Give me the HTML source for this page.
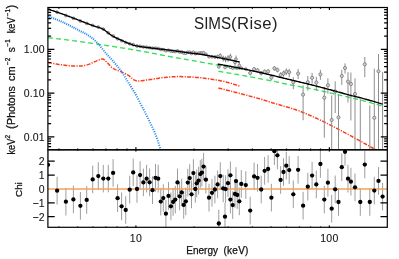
<!DOCTYPE html>
<html><head><meta charset="utf-8"><title>SIMS(Rise)</title>
<style>html,body{margin:0;padding:0;background:#fff;overflow:hidden}body{width:399px;height:259px;position:relative;font-family:"Liberation Sans",sans-serif}</style></head>
<body>
<svg width="399" height="259" viewBox="0 0 399 259" style="display:block;position:absolute;left:0;top:0;will-change:transform">
<rect width="399" height="259" fill="#fff"/>
<defs><clipPath id="ct"><rect x="47.9" y="7.5" width="339.40000000000003" height="142.3"/></clipPath><clipPath id="cb"><rect x="47.9" y="149.8" width="339.40000000000003" height="77.5"/></clipPath></defs>
<g clip-path="url(#ct)" fill="none">
<path d="M48.0,37.7 L49.0,37.8 L49.9,37.9 L50.9,38.0 L51.8,38.1 L52.8,38.2 L53.8,38.3 L54.7,38.4 L55.7,38.5 L56.7,38.7 L57.6,38.8 L58.6,38.9 L59.5,39.0 L60.5,39.1 L61.5,39.2 L62.4,39.3 L63.4,39.5 L64.4,39.6 L65.3,39.7 L66.3,39.8 L67.2,39.9 L68.2,40.1 L69.2,40.2 L70.1,40.3 L71.1,40.4 L72.1,40.5 L73.0,40.7 L74.0,40.8 L74.9,40.9 L75.9,41.0 L76.9,41.2 L77.8,41.3 L78.8,41.4 L79.8,41.6 L80.7,41.7 L81.7,41.8 L82.6,42.0 L83.6,42.1 L84.6,42.2 L85.5,42.4 L86.5,42.5 L87.5,42.6 L88.4,42.8 L89.4,42.9 L90.3,43.0 L91.3,43.2 L92.3,43.3 L93.2,43.5 L94.2,43.6 L95.2,43.7 L96.1,43.9 L97.1,44.0 L98.0,44.2 L99.0,44.3 L100.0,44.5 L100.9,44.6 L101.9,44.8 L102.9,44.9 L103.8,45.1 L104.8,45.2 L105.7,45.3 L106.7,45.5 L107.7,45.6 L108.6,45.8 L109.6,45.9 L110.6,46.1 L111.5,46.2 L112.5,46.4 L113.4,46.5 L114.4,46.7 L115.4,46.9 L116.3,47.0 L117.3,47.2 L118.2,47.3 L119.2,47.5 L120.2,47.6 L121.1,47.8 L122.1,47.9 L123.1,48.1 L124.0,48.2 L125.0,48.4 L125.9,48.6 L126.9,48.7 L127.9,48.9 L128.8,49.0 L129.8,49.2 L130.8,49.4 L131.7,49.5 L132.7,49.7 L133.6,49.8 L134.6,50.0 L135.6,50.2 L136.5,50.3 L137.5,50.5 L138.5,50.6 L139.4,50.8 L140.4,51.0 L141.3,51.1 L142.3,51.3 L143.3,51.5 L144.2,51.6 L145.2,51.8 L146.2,52.0 L147.1,52.2 L148.1,52.4 L149.0,52.6 L150.0,52.7 L151.0,52.9 L151.9,53.1 L152.9,53.3 L153.9,53.5 L154.8,53.7 L155.8,53.9 L156.7,54.1 L157.7,54.3 L158.7,54.5 L159.6,54.7 L160.6,54.8 L161.6,55.0 L162.5,55.2 L163.5,55.4 L164.4,55.6 L165.4,55.8 L166.4,55.9 L167.3,56.1 L168.3,56.3 L169.3,56.5 L170.2,56.6 L171.2,56.8 L172.1,57.0 L173.1,57.2 L174.1,57.3 L175.0,57.5 L176.0,57.7 L176.9,57.8 L177.9,58.0 L178.9,58.2 L179.8,58.3 L180.8,58.5 L181.8,58.7 L182.7,58.9 L183.7,59.0 L184.6,59.2 L185.6,59.4 L186.6,59.5 L187.5,59.7 L188.5,59.9 L189.5,60.0 L190.4,60.2 L191.4,60.4 L192.3,60.6 L193.3,60.7 L194.3,60.9 L195.2,61.1 L196.2,61.2 L197.2,61.4 L198.1,61.6 L199.1,61.8 L200.0,61.9 L201.0,62.1 L202.0,62.3 L202.9,62.4 L203.9,62.6 L204.9,62.8 L205.8,62.9 L206.8,63.1 L207.7,63.3 L208.7,63.5 L209.7,63.6 L210.6,63.8 L211.6,64.0 L212.6,64.2 L213.5,64.3 L214.5,64.5 L215.4,64.7 L216.4,64.9 L217.4,65.1 L218.3,65.3 L219.3,65.4 L220.3,65.6 L221.2,65.8 L222.2,66.0 L223.1,66.2 L224.1,66.4 L225.1,66.6 L226.0,66.8 L227.0,66.9 L228.0,67.1 L228.9,67.3 L229.9,67.5 L230.8,67.7 L231.8,67.9 L232.8,68.1 L233.7,68.3 L234.7,68.5 L235.7,68.7 L236.6,68.9 L237.6,69.1 L238.5,69.3 L239.5,69.5" stroke="#2ee052" stroke-width="1.3" stroke-dasharray="5,3.1"/>
<path d="M218.4,71.3 L219.2,71.4 L220.1,71.6 L220.9,71.7 L221.7,71.8 L222.5,72.0 L223.4,72.1 L224.2,72.3 L225.0,72.4 L225.8,72.5 L226.7,72.7 L227.5,72.8 L228.3,73.0 L229.1,73.1 L230.0,73.2 L230.8,73.4 L231.6,73.5 L232.4,73.7 L233.3,73.8 L234.1,74.0 L234.9,74.1 L235.7,74.2 L236.6,74.4 L237.4,74.5 L238.2,74.7 L239.0,74.8 L239.9,75.0 L240.7,75.1 L241.5,75.3 L242.3,75.4 L243.2,75.6 L244.0,75.7 L244.8,75.9 L245.6,76.0 L246.5,76.2 L247.3,76.3 L248.1,76.5 L248.9,76.6 L249.8,76.8 L250.6,76.9 L251.4,77.1 L252.2,77.2 L253.1,77.4 L253.9,77.6 L254.7,77.7 L255.5,77.9 L256.4,78.0 L257.2,78.2 L258.0,78.3 L258.8,78.5 L259.7,78.6 L260.5,78.8 L261.3,78.9 L262.1,79.1 L263.0,79.3 L263.8,79.4 L264.6,79.6 L265.4,79.7 L266.3,79.9 L267.1,80.0 L267.9,80.2 L268.7,80.4 L269.6,80.5 L270.4,80.7 L271.2,80.8 L272.0,81.0 L272.9,81.2 L273.7,81.4 L274.5,81.5 L275.3,81.7 L276.2,81.9 L277.0,82.0 L277.8,82.2 L278.6,82.4 L279.5,82.6 L280.3,82.8 L281.1,82.9 L281.9,83.1 L282.8,83.3 L283.6,83.5 L284.4,83.6 L285.2,83.8 L286.1,84.0 L286.9,84.2 L287.7,84.3 L288.5,84.5 L289.4,84.7 L290.2,84.8 L291.0,85.0 L291.8,85.2 L292.7,85.3 L293.5,85.5 L294.3,85.6 L295.1,85.8 L296.0,85.9 L296.8,86.1 L297.6,86.2 L298.4,86.4 L299.3,86.5 L300.1,86.7 L300.9,86.8 L301.7,87.0 L302.6,87.1 L303.4,87.3 L304.2,87.4 L305.0,87.6 L305.9,87.7 L306.7,87.9 L307.5,88.0 L308.3,88.2 L309.2,88.4 L310.0,88.5 L310.8,88.7 L311.6,88.8 L312.5,89.0 L313.3,89.1 L314.1,89.3 L314.9,89.5 L315.8,89.7 L316.6,89.8 L317.4,90.0 L318.2,90.2 L319.1,90.4 L319.9,90.5 L320.7,90.7 L321.5,90.9 L322.4,91.1 L323.2,91.3 L324.0,91.5 L324.8,91.7 L325.7,91.9 L326.5,92.1 L327.3,92.3 L328.1,92.5 L329.0,92.7 L329.8,92.9 L330.6,93.0 L331.4,93.2 L332.3,93.4 L333.1,93.6 L333.9,93.8 L334.7,94.0 L335.6,94.2 L336.4,94.4 L337.2,94.5 L338.0,94.7 L338.9,94.9 L339.7,95.1 L340.5,95.3 L341.3,95.5 L342.2,95.7 L343.0,95.9 L343.8,96.1 L344.6,96.2 L345.5,96.4 L346.3,96.6 L347.1,96.8 L347.9,97.0 L348.8,97.2 L349.6,97.4 L350.4,97.6 L351.2,97.8 L352.1,98.0 L352.9,98.2 L353.7,98.4 L354.5,98.6 L355.4,98.8 L356.2,99.0 L357.0,99.2 L357.8,99.4 L358.7,99.6 L359.5,99.8 L360.3,100.0 L361.1,100.2 L362.0,100.4 L362.8,100.6 L363.6,100.8 L364.4,101.0 L365.3,101.3 L366.1,101.5 L366.9,101.7 L367.7,101.9 L368.6,102.1 L369.4,102.4 L370.2,102.6 L371.0,102.8 L371.9,103.1 L372.7,103.3 L373.5,103.5 L374.3,103.8 L375.2,104.0 L376.0,104.2 L376.8,104.5 L377.6,104.7 L378.5,105.0 L379.3,105.2 L380.1,105.4 L380.9,105.7 L381.8,105.9 L382.6,106.2" stroke="#2ee052" stroke-width="1.3" stroke-dasharray="5,3.1"/>
<path d="M48.0,62.5 L49.0,62.7 L49.9,62.9 L50.9,63.1 L51.8,63.3 L52.8,63.5 L53.8,63.6 L54.7,63.8 L55.7,64.0 L56.7,64.1 L57.6,64.3 L58.6,64.4 L59.5,64.5 L60.5,64.7 L61.5,64.8 L62.4,64.9 L63.4,65.0 L64.4,65.2 L65.3,65.3 L66.3,65.4 L67.2,65.5 L68.2,65.6 L69.2,65.7 L70.1,65.7 L71.1,65.8 L72.1,65.9 L73.0,65.9 L74.0,66.0 L74.9,66.0 L75.9,66.0 L76.9,66.1 L77.8,66.1 L78.8,66.1 L79.8,66.1 L80.7,66.0 L81.7,65.9 L82.6,65.8 L83.6,65.6 L84.6,65.4 L85.5,65.1 L86.5,64.9 L87.5,64.7 L88.4,64.4 L89.4,64.1 L90.3,63.7 L91.3,63.2 L92.3,62.8 L93.2,62.3 L94.2,61.9 L95.2,61.5 L96.1,61.1 L97.1,60.6 L98.0,60.2 L99.0,59.9 L100.0,59.6 L100.9,59.3 L101.9,59.1 L102.9,59.0 L103.8,59.4 L104.8,60.2 L105.7,61.2 L106.7,62.1 L107.7,63.0 L108.6,64.1 L109.6,65.2 L110.6,66.3 L111.5,67.3 L112.5,68.1 L113.4,68.7 L114.4,69.1 L115.4,69.6 L116.3,69.9 L117.3,70.3 L118.2,70.6 L119.2,71.0 L120.2,71.3 L121.1,71.7 L122.1,72.1 L123.1,72.6 L124.0,73.0 L125.0,73.5 L125.9,74.0 L126.9,74.5 L127.9,75.1 L128.8,75.7 L129.8,76.3 L130.8,77.1 L131.7,78.0 L132.7,78.9 L133.6,79.6 L134.6,80.1 L135.6,80.5 L136.5,80.9 L137.5,81.1 L138.5,81.1 L139.4,81.0 L140.4,80.9 L141.3,80.8 L142.3,80.7 L143.3,80.5 L144.2,80.4 L145.2,80.3 L146.2,80.1 L147.1,80.0 L148.1,79.8 L149.0,79.7 L150.0,79.5 L151.0,79.4 L151.9,79.3 L152.9,79.1 L153.9,79.0 L154.8,78.8 L155.8,78.7 L156.7,78.5 L157.7,78.4 L158.7,78.2 L159.6,78.1 L160.6,78.0 L161.6,77.8 L162.5,77.7 L163.5,77.6 L164.4,77.5 L165.4,77.4 L166.4,77.3 L167.3,77.2 L168.3,77.1 L169.3,77.0 L170.2,77.0 L171.2,76.9 L172.1,76.8 L173.1,76.8 L174.1,76.7 L175.0,76.7 L176.0,76.6 L176.9,76.6 L177.9,76.6 L178.9,76.6 L179.8,76.6 L180.8,76.6 L181.8,76.7 L182.7,76.7 L183.7,76.7 L184.6,76.8 L185.6,76.8 L186.6,76.8 L187.5,76.9 L188.5,76.9 L189.5,77.0 L190.4,77.0 L191.4,77.1 L192.3,77.1 L193.3,77.2 L194.3,77.2 L195.2,77.3 L196.2,77.4 L197.2,77.5 L198.1,77.6 L199.1,77.6 L200.0,77.7 L201.0,77.8 L202.0,78.0 L202.9,78.1 L203.9,78.2 L204.9,78.3 L205.8,78.4 L206.8,78.5 L207.7,78.7 L208.7,78.8 L209.7,78.9 L210.6,79.1 L211.6,79.2 L212.6,79.4 L213.5,79.5 L214.5,79.7 L215.4,79.8 L216.4,80.0 L217.4,80.1 L218.3,80.3 L219.3,80.5 L220.3,80.7 L221.2,80.9 L222.2,81.1 L223.1,81.3 L224.1,81.5 L225.1,81.8 L226.0,82.0 L227.0,82.3 L228.0,82.5 L228.9,82.8 L229.9,83.0 L230.8,83.3 L231.8,83.6 L232.8,83.9 L233.7,84.2 L234.7,84.5 L235.7,84.8 L236.6,85.1 L237.6,85.4 L238.5,85.7 L239.5,86.0" stroke="#ff3a1a" stroke-width="1.5" stroke-dasharray="4,1.3,1.2,1.3"/>
<path d="M218.4,88.0 L219.2,88.2 L220.0,88.4 L220.8,88.6 L221.6,88.8 L222.4,89.0 L223.1,89.2 L223.9,89.4 L224.7,89.6 L225.5,89.8 L226.3,90.0 L227.1,90.2 L227.9,90.4 L228.7,90.6 L229.5,90.8 L230.3,91.0 L231.1,91.2 L231.8,91.4 L232.6,91.6 L233.4,91.8 L234.2,92.0 L235.0,92.2 L235.8,92.4 L236.6,92.6 L237.4,92.8 L238.2,93.0 L239.0,93.2 L239.8,93.4 L240.5,93.6 L241.3,93.9 L242.1,94.1 L242.9,94.3 L243.7,94.5 L244.5,94.7 L245.3,94.9 L246.1,95.1 L246.9,95.3 L247.7,95.5 L248.5,95.7 L249.2,95.9 L250.0,96.2 L250.8,96.4 L251.6,96.6 L252.4,96.8 L253.2,97.0 L254.0,97.2 L254.8,97.4 L255.6,97.6 L256.4,97.9 L257.2,98.1 L257.9,98.3 L258.7,98.5 L259.5,98.7 L260.3,99.0 L261.1,99.2 L261.9,99.4 L262.7,99.7 L263.5,99.9 L264.3,100.2 L265.1,100.4 L265.9,100.7 L266.6,100.9 L267.4,101.2 L268.2,101.4 L269.0,101.7 L269.8,101.9 L270.6,102.2 L271.4,102.4 L272.2,102.7 L273.0,102.9 L273.8,103.2 L274.6,103.4 L275.3,103.7 L276.1,103.9 L276.9,104.1 L277.7,104.3 L278.5,104.6 L279.3,104.8 L280.1,105.0 L280.9,105.3 L281.7,105.5 L282.5,105.7 L283.3,106.0 L284.0,106.2 L284.8,106.4 L285.6,106.7 L286.4,106.9 L287.2,107.1 L288.0,107.3 L288.8,107.6 L289.6,107.8 L290.4,108.0 L291.2,108.3 L292.0,108.5 L292.7,108.8 L293.5,109.0 L294.3,109.3 L295.1,109.5 L295.9,109.8 L296.7,110.1 L297.5,110.4 L298.3,110.6 L299.1,110.9 L299.9,111.2 L300.7,111.5 L301.5,111.8 L302.2,112.2 L303.0,112.5 L303.8,112.8 L304.6,113.1 L305.4,113.5 L306.2,113.8 L307.0,114.1 L307.8,114.5 L308.6,114.8 L309.4,115.1 L310.2,115.5 L310.9,115.8 L311.7,116.2 L312.5,116.5 L313.3,116.9 L314.1,117.2 L314.9,117.6 L315.7,118.0 L316.5,118.3 L317.3,118.7 L318.1,119.1 L318.9,119.4 L319.6,119.8 L320.4,120.2 L321.2,120.6 L322.0,121.0 L322.8,121.3 L323.6,121.7 L324.4,122.1 L325.2,122.5 L326.0,122.9 L326.8,123.3 L327.6,123.7 L328.3,124.1 L329.1,124.5 L329.9,124.9 L330.7,125.3 L331.5,125.7 L332.3,126.1 L333.1,126.5 L333.9,126.9 L334.7,127.3 L335.5,127.7 L336.3,128.1 L337.0,128.5 L337.8,128.9 L338.6,129.3 L339.4,129.8 L340.2,130.2 L341.0,130.6 L341.8,131.0 L342.6,131.4 L343.4,131.8 L344.2,132.3 L345.0,132.7 L345.7,133.1 L346.5,133.5 L347.3,134.0 L348.1,134.4 L348.9,134.8 L349.7,135.3 L350.5,135.7 L351.3,136.1 L352.1,136.5 L352.9,137.0 L353.7,137.4 L354.4,137.8 L355.2,138.3 L356.0,138.7 L356.8,139.1 L357.6,139.6 L358.4,140.0 L359.2,140.4 L360.0,140.9 L360.8,141.3 L361.6,141.7 L362.4,142.2 L363.1,142.6 L363.9,143.1 L364.7,143.5 L365.5,144.0 L366.3,144.4 L367.1,144.8 L367.9,145.3 L368.7,145.7 L369.5,146.2 L370.3,146.6 L371.1,147.1 L371.8,147.5 L372.6,148.0 L373.4,148.4 L374.2,148.9 L375.0,149.3 L375.8,149.8" stroke="#ff3a1a" stroke-width="1.5" stroke-dasharray="4,1.3,1.2,1.3"/>
<path d="M48.34,15.46L47.71,17.36M50.21,16.10L49.56,17.99M52.11,16.77L51.43,18.65M54.01,17.48L53.31,19.35M55.91,18.21L55.18,20.07M57.81,18.96L57.06,20.82M59.68,19.74L58.90,21.58M61.55,20.53L60.75,22.37M63.42,21.36L62.60,23.18M65.29,22.22L64.44,24.03M67.14,23.11L66.26,24.90M68.98,24.02L68.08,25.81M70.81,24.95L69.90,26.73M72.65,25.91L71.72,27.68M74.46,26.86L73.52,28.63M76.26,27.82L75.32,29.58M78.06,28.78L77.13,30.55M79.85,29.71L78.94,31.49M81.68,30.65L80.77,32.43M83.52,31.59L82.59,33.37M85.33,32.56L84.38,34.32M87.16,33.58L86.16,35.31M88.96,34.66L87.91,36.36M90.74,35.81L89.62,37.46M92.49,37.04L91.30,38.65M94.23,38.46L92.89,39.95M95.84,40.01L94.43,41.42M97.38,41.60L95.93,42.97M98.88,43.20L97.41,44.55M100.37,44.89L98.85,46.19M101.82,46.64L100.27,47.90M103.23,48.39L101.68,49.64M104.64,50.12L103.09,51.38M106.03,51.78L104.51,53.09M107.48,53.43L105.99,54.77M108.94,55.04L107.46,56.39M110.43,56.67L108.96,58.02M111.93,58.31L110.44,59.65M113.40,59.97L111.89,61.29M114.85,61.65L113.32,62.95M116.28,63.34L114.76,64.64M117.73,65.06L116.19,66.34M119.14,66.80L117.58,68.05M120.54,68.58L118.95,69.79M121.91,70.41L120.29,71.58M123.25,72.34L121.59,73.45M124.53,74.34L122.84,75.40M125.75,76.34L124.04,77.37M126.97,78.37L125.25,79.39M128.17,80.38L126.46,81.42M129.38,82.33L127.68,83.40M130.61,84.29L128.92,85.36M131.85,86.23L130.16,87.30M133.09,88.20L131.40,89.26M134.34,90.23L132.63,91.26M135.56,92.27L133.83,93.29M136.75,94.33L135.01,95.32M137.91,96.41L136.16,97.38M139.04,98.52L137.27,99.46M140.17,100.70L138.40,101.62M141.27,102.86L139.49,103.77M142.37,105.02L140.59,105.93M143.47,107.16L141.69,108.07M144.57,109.30L142.79,110.21M145.67,111.45L143.88,112.35M146.77,113.61L144.98,114.51M147.87,115.80L146.08,116.69M148.97,118.00L147.17,118.89M150.04,120.17L148.24,121.05M151.11,122.36L149.31,123.23M152.18,124.58L150.38,125.44M153.22,126.75L151.42,127.62M154.27,128.93L152.46,129.79M155.29,131.17L153.46,131.98M156.24,133.44L154.38,134.17M157.12,135.77L155.24,136.46M157.94,138.08L156.05,138.74M158.73,140.40L156.84,141.04M159.50,142.74L157.59,143.35M160.23,145.07L158.32,145.66M160.94,147.40L159.02,147.97" stroke="#1f86ee" stroke-width="1.05"/>
<path d="M200.3,51.9V54.3" stroke="#8e8e8e" stroke-width="1"/>
<path d="M201.9,51.9V54.5" stroke="#8e8e8e" stroke-width="1"/>
<path d="M203.6,51.6V54.2" stroke="#8e8e8e" stroke-width="1"/>
<path d="M205.9,53.1V55.8" stroke="#8e8e8e" stroke-width="1"/>
<path d="M209.0,55.3V58.1" stroke="#8e8e8e" stroke-width="1"/>
<path d="M212.0,55.4V58.3" stroke="#8e8e8e" stroke-width="1"/>
<path d="M214.9,55.6V58.6" stroke="#8e8e8e" stroke-width="1"/>
<path d="M217.6,54.5V59.2" stroke="#8e8e8e" stroke-width="1"/>
<path d="M220.3,53.3V58.5" stroke="#8e8e8e" stroke-width="1"/>
<path d="M223.2,55.8V61.5" stroke="#8e8e8e" stroke-width="1"/>
<path d="M225.6,56.2V62.3" stroke="#8e8e8e" stroke-width="1"/>
<path d="M228.0,55.2V61.8" stroke="#8e8e8e" stroke-width="1"/>
<path d="M230.4,53.6V60.6" stroke="#8e8e8e" stroke-width="1"/>
<path d="M235.0,58.7V66.5" stroke="#8e8e8e" stroke-width="1"/>
<path d="M236.0,55.5V63.4" stroke="#8e8e8e" stroke-width="1"/>
<path d="M239.3,61.5V70.0" stroke="#8e8e8e" stroke-width="1"/>
<path d="M250.2,71.0V75.5" stroke="#8e8e8e" stroke-width="1"/>
<path d="M254.1,67.2V71.4" stroke="#8e8e8e" stroke-width="1"/>
<path d="M257.5,68.3V72.7" stroke="#8e8e8e" stroke-width="1"/>
<path d="M261.2,70.9V75.5" stroke="#8e8e8e" stroke-width="1"/>
<path d="M264.6,69.6V74.2" stroke="#8e8e8e" stroke-width="1"/>
<path d="M268.1,69.2V74.0" stroke="#8e8e8e" stroke-width="1"/>
<path d="M271.4,75.2V80.5" stroke="#8e8e8e" stroke-width="1"/>
<path d="M274.4,66.2V70.8" stroke="#8e8e8e" stroke-width="1"/>
<path d="M277.4,67.7V72.5" stroke="#8e8e8e" stroke-width="1"/>
<path d="M280.6,72.3V78.2" stroke="#8e8e8e" stroke-width="1"/>
<path d="M283.5,70.6V76.7" stroke="#8e8e8e" stroke-width="1"/>
<path d="M286.3,68.5V75.3" stroke="#8e8e8e" stroke-width="1"/>
<path d="M289.2,68.8V77.4" stroke="#8e8e8e" stroke-width="1"/>
<path d="M293.3,77.2V89.2" stroke="#8e8e8e" stroke-width="1"/>
<path d="M298.1,69.0V79.1" stroke="#8e8e8e" stroke-width="1"/>
<path d="M303.1,85.3V120.2" stroke="#8e8e8e" stroke-width="1"/>
<path d="M307.8,76.0V90.7" stroke="#8e8e8e" stroke-width="1"/>
<path d="M312.1,72.9V83.7" stroke="#8e8e8e" stroke-width="1"/>
<path d="M316.3,76.8V90.7" stroke="#8e8e8e" stroke-width="1"/>
<path d="M320.4,69.8V79.9" stroke="#8e8e8e" stroke-width="1"/>
<path d="M324.3,86.8V137.7" stroke="#8e8e8e" stroke-width="1"/>
<path d="M327.9,78.3V93.8" stroke="#8e8e8e" stroke-width="1"/>
<path d="M331.7,95.4V149.8" stroke="#8e8e8e" stroke-width="1"/>
<path d="M335.2,81.4V113.0" stroke="#8e8e8e" stroke-width="1"/>
<path d="M338.5,94.6V149.8" stroke="#8e8e8e" stroke-width="1"/>
<path d="M341.8,69.8V84.9" stroke="#8e8e8e" stroke-width="1"/>
<path d="M345.0,63.4V73.6" stroke="#8e8e8e" stroke-width="1"/>
<path d="M348.0,72.1V102.5" stroke="#8e8e8e" stroke-width="1"/>
<path d="M350.9,72.5V120.5" stroke="#8e8e8e" stroke-width="1"/>
<path d="M355.0,78.3V149.8" stroke="#8e8e8e" stroke-width="1"/>
<path d="M360.3,99.0V149.8" stroke="#8e8e8e" stroke-width="1"/>
<path d="M364.8,57.0V77.2" stroke="#8e8e8e" stroke-width="1"/>
<path d="M369.8,105.3V149.8" stroke="#8e8e8e" stroke-width="1"/>
<path d="M374.3,68.7V149.8" stroke="#8e8e8e" stroke-width="1"/>
<path d="M378.5,54.2V149.8" stroke="#8e8e8e" stroke-width="1"/>
<path d="M382.6,72.1V149.8" stroke="#8e8e8e" stroke-width="1"/>
<circle cx="48.0" cy="8.7" r="1.4" stroke="#6a6a6a" stroke-width="0.7" fill="#cfcfcf"/>
<circle cx="57.1" cy="12.2" r="1.4" stroke="#6a6a6a" stroke-width="0.7" fill="#cfcfcf"/>
<circle cx="65.9" cy="15.5" r="1.4" stroke="#6a6a6a" stroke-width="0.7" fill="#cfcfcf"/>
<circle cx="73.4" cy="18.3" r="1.4" stroke="#6a6a6a" stroke-width="0.7" fill="#cfcfcf"/>
<circle cx="80.4" cy="21.1" r="1.4" stroke="#6a6a6a" stroke-width="0.7" fill="#cfcfcf"/>
<circle cx="86.7" cy="23.4" r="1.4" stroke="#6a6a6a" stroke-width="0.7" fill="#cfcfcf"/>
<circle cx="92.7" cy="25.4" r="1.4" stroke="#6a6a6a" stroke-width="0.7" fill="#cfcfcf"/>
<circle cx="98.3" cy="27.1" r="1.4" stroke="#6a6a6a" stroke-width="0.7" fill="#cfcfcf"/>
<circle cx="103.3" cy="29.1" r="1.4" stroke="#6a6a6a" stroke-width="0.7" fill="#cfcfcf"/>
<circle cx="108.3" cy="32.9" r="1.4" stroke="#6a6a6a" stroke-width="0.7" fill="#cfcfcf"/>
<circle cx="113.1" cy="36.0" r="1.4" stroke="#6a6a6a" stroke-width="0.7" fill="#cfcfcf"/>
<circle cx="117.6" cy="38.8" r="1.4" stroke="#6a6a6a" stroke-width="0.7" fill="#cfcfcf"/>
<circle cx="121.6" cy="40.7" r="1.4" stroke="#6a6a6a" stroke-width="0.7" fill="#cfcfcf"/>
<circle cx="125.7" cy="42.5" r="1.4" stroke="#6a6a6a" stroke-width="0.7" fill="#cfcfcf"/>
<circle cx="129.7" cy="43.8" r="1.4" stroke="#6a6a6a" stroke-width="0.7" fill="#cfcfcf"/>
<circle cx="133.2" cy="44.7" r="1.4" stroke="#6a6a6a" stroke-width="0.7" fill="#cfcfcf"/>
<circle cx="137.0" cy="46.0" r="1.4" stroke="#6a6a6a" stroke-width="0.7" fill="#cfcfcf"/>
<circle cx="140.1" cy="46.3" r="1.4" stroke="#6a6a6a" stroke-width="0.7" fill="#cfcfcf"/>
<circle cx="143.4" cy="46.9" r="1.4" stroke="#6a6a6a" stroke-width="0.7" fill="#cfcfcf"/>
<circle cx="146.6" cy="47.2" r="1.4" stroke="#6a6a6a" stroke-width="0.7" fill="#cfcfcf"/>
<circle cx="149.6" cy="47.7" r="1.4" stroke="#6a6a6a" stroke-width="0.7" fill="#cfcfcf"/>
<circle cx="152.5" cy="48.2" r="1.4" stroke="#6a6a6a" stroke-width="0.7" fill="#cfcfcf"/>
<circle cx="155.5" cy="48.2" r="1.4" stroke="#6a6a6a" stroke-width="0.7" fill="#cfcfcf"/>
<circle cx="158.2" cy="48.5" r="1.4" stroke="#6a6a6a" stroke-width="0.7" fill="#cfcfcf"/>
<circle cx="160.8" cy="49.5" r="1.4" stroke="#6a6a6a" stroke-width="0.7" fill="#cfcfcf"/>
<circle cx="163.3" cy="49.7" r="1.4" stroke="#6a6a6a" stroke-width="0.7" fill="#cfcfcf"/>
<circle cx="165.9" cy="50.7" r="1.4" stroke="#6a6a6a" stroke-width="0.7" fill="#cfcfcf"/>
<circle cx="168.5" cy="50.3" r="1.4" stroke="#6a6a6a" stroke-width="0.7" fill="#cfcfcf"/>
<circle cx="170.9" cy="51.1" r="1.4" stroke="#6a6a6a" stroke-width="0.7" fill="#cfcfcf"/>
<circle cx="173.1" cy="51.3" r="1.4" stroke="#6a6a6a" stroke-width="0.7" fill="#cfcfcf"/>
<circle cx="175.3" cy="51.5" r="1.4" stroke="#6a6a6a" stroke-width="0.7" fill="#cfcfcf"/>
<circle cx="177.5" cy="50.9" r="1.4" stroke="#6a6a6a" stroke-width="0.7" fill="#cfcfcf"/>
<circle cx="179.6" cy="52.0" r="1.4" stroke="#6a6a6a" stroke-width="0.7" fill="#cfcfcf"/>
<circle cx="181.7" cy="52.0" r="1.4" stroke="#6a6a6a" stroke-width="0.7" fill="#cfcfcf"/>
<circle cx="183.7" cy="53.1" r="1.4" stroke="#6a6a6a" stroke-width="0.7" fill="#cfcfcf"/>
<circle cx="185.8" cy="53.2" r="1.4" stroke="#6a6a6a" stroke-width="0.7" fill="#cfcfcf"/>
<circle cx="187.8" cy="52.3" r="1.4" stroke="#6a6a6a" stroke-width="0.7" fill="#cfcfcf"/>
<circle cx="189.7" cy="52.2" r="1.4" stroke="#6a6a6a" stroke-width="0.7" fill="#cfcfcf"/>
<circle cx="191.5" cy="53.5" r="1.4" stroke="#6a6a6a" stroke-width="0.7" fill="#cfcfcf"/>
<circle cx="193.4" cy="52.2" r="1.4" stroke="#6a6a6a" stroke-width="0.7" fill="#cfcfcf"/>
<circle cx="195.3" cy="53.6" r="1.4" stroke="#6a6a6a" stroke-width="0.7" fill="#cfcfcf"/>
<circle cx="196.7" cy="53.3" r="1.4" stroke="#6a6a6a" stroke-width="0.7" fill="#cfcfcf"/>
<circle cx="198.6" cy="53.3" r="1.4" stroke="#6a6a6a" stroke-width="0.7" fill="#cfcfcf"/>
<circle cx="200.3" cy="53.0" r="1.4" stroke="#6a6a6a" stroke-width="0.7" fill="#cfcfcf"/>
<circle cx="201.9" cy="53.1" r="1.4" stroke="#6a6a6a" stroke-width="0.7" fill="#cfcfcf"/>
<circle cx="203.6" cy="52.8" r="1.4" stroke="#6a6a6a" stroke-width="0.7" fill="#cfcfcf"/>
<circle cx="205.9" cy="54.3" r="1.4" stroke="#6a6a6a" stroke-width="0.7" fill="#cfcfcf"/>
<circle cx="209.0" cy="56.6" r="1.4" stroke="#6a6a6a" stroke-width="0.7" fill="#cfcfcf"/>
<circle cx="212.0" cy="56.7" r="1.4" stroke="#6a6a6a" stroke-width="0.7" fill="#cfcfcf"/>
<circle cx="214.9" cy="57.0" r="1.4" stroke="#6a6a6a" stroke-width="0.7" fill="#cfcfcf"/>
<circle cx="217.6" cy="56.7" r="1.4" stroke="#6a6a6a" stroke-width="0.7" fill="#cfcfcf"/>
<circle cx="218.8" cy="67.0" r="1.35" stroke="#6a6a6a" stroke-width="0.7" fill="#cfcfcf"/>
<circle cx="220.3" cy="55.7" r="1.4" stroke="#6a6a6a" stroke-width="0.7" fill="#cfcfcf"/>
<circle cx="223.2" cy="58.4" r="1.4" stroke="#6a6a6a" stroke-width="0.7" fill="#cfcfcf"/>
<circle cx="225.6" cy="59.1" r="1.4" stroke="#6a6a6a" stroke-width="0.7" fill="#cfcfcf"/>
<circle cx="225.0" cy="67.6" r="1.35" stroke="#6a6a6a" stroke-width="0.7" fill="#cfcfcf"/>
<circle cx="228.0" cy="58.3" r="1.4" stroke="#6a6a6a" stroke-width="0.7" fill="#cfcfcf"/>
<circle cx="230.4" cy="56.9" r="1.4" stroke="#6a6a6a" stroke-width="0.7" fill="#cfcfcf"/>
<circle cx="230.4" cy="67.2" r="1.35" stroke="#6a6a6a" stroke-width="0.7" fill="#cfcfcf"/>
<circle cx="232.7" cy="68.1" r="1.35" stroke="#6a6a6a" stroke-width="0.7" fill="#cfcfcf"/>
<circle cx="235.0" cy="62.3" r="1.4" stroke="#6a6a6a" stroke-width="0.7" fill="#cfcfcf"/>
<circle cx="236.0" cy="59.2" r="1.4" stroke="#6a6a6a" stroke-width="0.7" fill="#cfcfcf"/>
<circle cx="237.2" cy="68.1" r="1.35" stroke="#6a6a6a" stroke-width="0.7" fill="#cfcfcf"/>
<circle cx="239.3" cy="65.5" r="1.4" stroke="#6a6a6a" stroke-width="0.7" fill="#cfcfcf"/>
<circle cx="241.3" cy="68.1" r="1.35" stroke="#6a6a6a" stroke-width="0.7" fill="#cfcfcf"/>
<circle cx="245.8" cy="69.1" r="1.35" stroke="#6a6a6a" stroke-width="0.7" fill="#cfcfcf"/>
<circle cx="250.2" cy="73.0" r="1.6" stroke="#6a6a6a" stroke-width="0.7" fill="#cfcfcf"/>
<circle cx="254.1" cy="69.1" r="1.6" stroke="#6a6a6a" stroke-width="0.7" fill="#cfcfcf"/>
<circle cx="257.5" cy="70.3" r="1.6" stroke="#6a6a6a" stroke-width="0.7" fill="#cfcfcf"/>
<circle cx="261.2" cy="73.0" r="1.6" stroke="#6a6a6a" stroke-width="0.7" fill="#cfcfcf"/>
<circle cx="264.6" cy="71.7" r="1.6" stroke="#6a6a6a" stroke-width="0.7" fill="#cfcfcf"/>
<circle cx="268.1" cy="71.4" r="1.6" stroke="#6a6a6a" stroke-width="0.7" fill="#cfcfcf"/>
<circle cx="271.4" cy="77.6" r="1.6" stroke="#6a6a6a" stroke-width="0.7" fill="#cfcfcf"/>
<circle cx="274.4" cy="68.3" r="1.6" stroke="#6a6a6a" stroke-width="0.7" fill="#cfcfcf"/>
<circle cx="277.4" cy="69.9" r="1.6" stroke="#6a6a6a" stroke-width="0.7" fill="#cfcfcf"/>
<circle cx="280.6" cy="75.0" r="1.6" stroke="#6a6a6a" stroke-width="0.7" fill="#cfcfcf"/>
<circle cx="283.5" cy="73.4" r="1.6" stroke="#6a6a6a" stroke-width="0.7" fill="#cfcfcf"/>
<circle cx="286.3" cy="71.7" r="1.6" stroke="#6a6a6a" stroke-width="0.7" fill="#cfcfcf"/>
<circle cx="289.2" cy="72.2" r="1.6" stroke="#6a6a6a" stroke-width="0.7" fill="#cfcfcf"/>
<circle cx="293.3" cy="82.2" r="1.6" stroke="#6a6a6a" stroke-width="0.7" fill="#cfcfcf"/>
<circle cx="298.1" cy="73.6" r="1.6" stroke="#6a6a6a" stroke-width="0.7" fill="#cfcfcf"/>
<circle cx="303.1" cy="94.6" r="1.6" stroke="#6a6a6a" stroke-width="0.7" fill="#cfcfcf"/>
<circle cx="307.8" cy="82.2" r="1.6" stroke="#6a6a6a" stroke-width="0.7" fill="#cfcfcf"/>
<circle cx="312.1" cy="77.8" r="1.6" stroke="#6a6a6a" stroke-width="0.7" fill="#cfcfcf"/>
<circle cx="316.3" cy="82.5" r="1.6" stroke="#6a6a6a" stroke-width="0.7" fill="#cfcfcf"/>
<circle cx="320.4" cy="74.4" r="1.6" stroke="#6a6a6a" stroke-width="0.7" fill="#cfcfcf"/>
<circle cx="324.3" cy="97.7" r="1.6" stroke="#6a6a6a" stroke-width="0.7" fill="#cfcfcf"/>
<circle cx="327.9" cy="85.3" r="1.6" stroke="#6a6a6a" stroke-width="0.7" fill="#cfcfcf"/>
<circle cx="331.7" cy="120.0" r="1.6" stroke="#6a6a6a" stroke-width="0.7" fill="#cfcfcf"/>
<circle cx="335.2" cy="91.4" r="1.6" stroke="#6a6a6a" stroke-width="0.7" fill="#cfcfcf"/>
<circle cx="338.5" cy="117.4" r="1.6" stroke="#6a6a6a" stroke-width="0.7" fill="#cfcfcf"/>
<circle cx="341.8" cy="76.0" r="1.6" stroke="#6a6a6a" stroke-width="0.7" fill="#cfcfcf"/>
<circle cx="345.0" cy="68.0" r="1.6" stroke="#6a6a6a" stroke-width="0.7" fill="#cfcfcf"/>
<circle cx="348.0" cy="81.6" r="1.6" stroke="#6a6a6a" stroke-width="0.7" fill="#cfcfcf"/>
<circle cx="350.9" cy="84.0" r="1.6" stroke="#6a6a6a" stroke-width="0.7" fill="#cfcfcf"/>
<circle cx="355.0" cy="94.0" r="1.6" stroke="#6a6a6a" stroke-width="0.7" fill="#cfcfcf"/>
<circle cx="364.8" cy="64.3" r="1.6" stroke="#6a6a6a" stroke-width="0.7" fill="#cfcfcf"/>
<circle cx="374.3" cy="117.8" r="1.6" stroke="#6a6a6a" stroke-width="0.7" fill="#cfcfcf"/>
<circle cx="378.5" cy="71.3" r="1.6" stroke="#6a6a6a" stroke-width="0.7" fill="#cfcfcf"/>
<path d="M48.0,9.1 L49.0,9.4 L49.9,9.7 L50.9,10.1 L51.8,10.4 L52.8,10.7 L53.8,11.0 L54.7,11.3 L55.7,11.7 L56.7,12.0 L57.6,12.3 L58.6,12.7 L59.5,13.0 L60.5,13.3 L61.5,13.7 L62.4,14.0 L63.4,14.4 L64.4,14.7 L65.3,15.1 L66.3,15.4 L67.2,15.8 L68.2,16.1 L69.2,16.5 L70.1,16.9 L71.1,17.2 L72.1,17.6 L73.0,18.0 L74.0,18.3 L74.9,18.7 L75.9,19.0 L76.9,19.4 L77.8,19.8 L78.8,20.1 L79.8,20.5 L80.7,20.9 L81.7,21.3 L82.6,21.6 L83.6,22.0 L84.6,22.4 L85.5,22.8 L86.5,23.2 L87.5,23.5 L88.4,23.9 L89.4,24.3 L90.3,24.7 L91.3,25.0 L92.3,25.4 L93.2,25.7 L94.2,26.1 L95.2,26.4 L96.1,26.7 L97.1,26.9 L98.0,27.2 L99.0,27.6 L100.0,27.9 L100.9,28.2 L101.9,28.6 L102.9,29.1 L103.8,29.6 L104.8,30.2 L105.7,31.0 L106.7,31.8 L107.7,32.6 L108.6,33.3 L109.6,34.0 L110.6,34.7 L111.5,35.4 L112.5,36.0 L113.4,36.5 L114.4,37.0 L115.4,37.5 L116.3,38.0 L117.3,38.4 L118.2,38.9 L119.2,39.3 L120.2,39.7 L121.1,40.2 L122.1,40.6 L123.1,41.0 L124.0,41.4 L125.0,41.8 L125.9,42.3 L126.9,42.7 L127.9,43.1 L128.8,43.5 L129.8,43.8 L130.8,44.2 L131.7,44.5 L132.7,44.9 L133.6,45.2 L134.6,45.4 L135.6,45.7 L136.5,45.9 L137.5,46.1 L138.5,46.3 L139.4,46.4 L140.4,46.6 L141.3,46.7 L142.3,46.9 L143.3,47.0 L144.2,47.1 L145.2,47.3 L146.2,47.4 L147.1,47.5 L148.1,47.6 L149.0,47.7 L150.0,47.8 L151.0,48.0 L151.9,48.1 L152.9,48.2 L153.9,48.3 L154.8,48.4 L155.8,48.5 L156.7,48.6 L157.7,48.8 L158.7,48.9 L159.6,49.0 L160.6,49.1 L161.6,49.2 L162.5,49.3 L163.5,49.4 L164.4,49.5 L165.4,49.6 L166.4,49.8 L167.3,49.9 L168.3,50.0 L169.3,50.1 L170.2,50.3 L171.2,50.4 L172.1,50.5 L173.1,50.6 L174.1,50.8 L175.0,50.9 L176.0,51.0 L176.9,51.2 L177.9,51.3 L178.9,51.4 L179.8,51.6 L180.8,51.7 L181.8,51.9 L182.7,52.0 L183.7,52.1 L184.6,52.2 L185.6,52.4 L186.6,52.5 L187.5,52.6 L188.5,52.8 L189.5,52.9 L190.4,53.0 L191.4,53.1 L192.3,53.3 L193.3,53.4 L194.3,53.5 L195.2,53.6 L196.2,53.7 L197.2,53.8 L198.1,53.9 L199.1,54.1 L200.0,54.2 L201.0,54.4 L202.0,54.5 L202.9,54.7 L203.9,54.8 L204.9,55.0 L205.8,55.2 L206.8,55.3 L207.7,55.5 L208.7,55.7 L209.7,55.9 L210.6,56.1 L211.6,56.3 L212.6,56.4 L213.5,56.6 L214.5,56.8 L215.4,57.0 L216.4,57.2 L217.4,57.4 L218.3,57.6 L219.3,57.8 L220.3,57.9 L221.2,58.1 L222.2,58.3 L223.1,58.5 L224.1,58.7 L225.1,58.9 L226.0,59.1 L227.0,59.3 L228.0,59.5 L228.9,59.7 L229.9,59.9 L230.8,60.1 L231.8,60.3 L232.8,60.5 L233.7,60.7 L234.7,60.9 L235.7,61.2 L236.6,61.4 L237.6,61.6 L238.5,61.8 L239.5,62.0" stroke="#000" stroke-width="1.4"/>
<path d="M217.6,64.1 L218.4,64.2 L219.3,64.4 L220.1,64.5 L220.9,64.7 L221.7,64.8 L222.6,64.9 L223.4,65.1 L224.2,65.2 L225.1,65.4 L225.9,65.5 L226.7,65.7 L227.5,65.8 L228.4,66.0 L229.2,66.1 L230.0,66.3 L230.9,66.4 L231.7,66.6 L232.5,66.8 L233.4,66.9 L234.2,67.1 L235.0,67.2 L235.8,67.4 L236.7,67.5 L237.5,67.7 L238.3,67.9 L239.2,68.0 L240.0,68.2 L240.8,68.4 L241.6,68.5 L242.5,68.7 L243.3,68.9 L244.1,69.0 L245.0,69.2 L245.8,69.4 L246.6,69.6 L247.4,69.7 L248.3,69.9 L249.1,70.1 L249.9,70.3 L250.8,70.5 L251.6,70.6 L252.4,70.8 L253.3,71.0 L254.1,71.2 L254.9,71.4 L255.7,71.6 L256.6,71.7 L257.4,71.9 L258.2,72.1 L259.1,72.3 L259.9,72.5 L260.7,72.7 L261.5,72.8 L262.4,73.0 L263.2,73.2 L264.0,73.4 L264.9,73.6 L265.7,73.8 L266.5,74.0 L267.3,74.2 L268.2,74.4 L269.0,74.6 L269.8,74.8 L270.7,75.0 L271.5,75.2 L272.3,75.4 L273.2,75.5 L274.0,75.7 L274.8,75.9 L275.6,76.1 L276.5,76.3 L277.3,76.6 L278.1,76.8 L279.0,77.0 L279.8,77.2 L280.6,77.4 L281.4,77.6 L282.3,77.8 L283.1,78.0 L283.9,78.2 L284.8,78.4 L285.6,78.6 L286.4,78.8 L287.2,79.0 L288.1,79.2 L288.9,79.4 L289.7,79.6 L290.6,79.8 L291.4,80.0 L292.2,80.2 L293.1,80.4 L293.9,80.6 L294.7,80.8 L295.5,81.0 L296.4,81.2 L297.2,81.4 L298.0,81.6 L298.9,81.8 L299.7,82.0 L300.5,82.2 L301.3,82.4 L302.2,82.6 L303.0,82.8 L303.8,83.0 L304.7,83.2 L305.5,83.4 L306.3,83.6 L307.1,83.8 L308.0,84.0 L308.8,84.2 L309.6,84.4 L310.5,84.6 L311.3,84.8 L312.1,85.0 L313.0,85.2 L313.8,85.4 L314.6,85.6 L315.4,85.9 L316.3,86.1 L317.1,86.3 L317.9,86.5 L318.8,86.7 L319.6,86.9 L320.4,87.1 L321.2,87.4 L322.1,87.6 L322.9,87.8 L323.7,88.0 L324.6,88.2 L325.4,88.5 L326.2,88.7 L327.0,88.9 L327.9,89.1 L328.7,89.4 L329.5,89.6 L330.4,89.8 L331.2,90.0 L332.0,90.3 L332.9,90.5 L333.7,90.7 L334.5,90.9 L335.3,91.2 L336.2,91.4 L337.0,91.6 L337.8,91.9 L338.7,92.1 L339.5,92.3 L340.3,92.5 L341.1,92.8 L342.0,93.0 L342.8,93.2 L343.6,93.5 L344.5,93.7 L345.3,93.9 L346.1,94.2 L346.9,94.4 L347.8,94.6 L348.6,94.8 L349.4,95.1 L350.3,95.3 L351.1,95.5 L351.9,95.7 L352.8,95.9 L353.6,96.1 L354.4,96.3 L355.2,96.5 L356.1,96.7 L356.9,96.9 L357.7,97.1 L358.6,97.3 L359.4,97.5 L360.2,97.7 L361.0,97.9 L361.9,98.2 L362.7,98.4 L363.5,98.6 L364.4,98.8 L365.2,99.1 L366.0,99.3 L366.8,99.5 L367.7,99.8 L368.5,100.0 L369.3,100.2 L370.2,100.5 L371.0,100.7 L371.8,100.9 L372.7,101.2 L373.5,101.4 L374.3,101.7 L375.1,101.9 L376.0,102.2 L376.8,102.4 L377.6,102.7 L378.5,102.9 L379.3,103.2 L380.1,103.4 L380.9,103.7 L381.8,103.9 L382.6,104.2" stroke="#000" stroke-width="1.4"/>
</g>
<g clip-path="url(#cb)">
<path d="M48.0,151.0V178.7" stroke="#999" stroke-width="0.95" fill="none"/>
<path d="M57.1,176.8V204.5" stroke="#999" stroke-width="0.95" fill="none"/>
<path d="M65.9,187.8V215.5" stroke="#999" stroke-width="0.95" fill="none"/>
<path d="M73.4,185.6V213.2" stroke="#999" stroke-width="0.95" fill="none"/>
<path d="M80.4,192.0V219.7" stroke="#999" stroke-width="0.95" fill="none"/>
<path d="M86.7,186.1V213.8" stroke="#999" stroke-width="0.95" fill="none"/>
<path d="M92.7,165.6V193.2" stroke="#999" stroke-width="0.95" fill="none"/>
<path d="M98.3,162.2V189.9" stroke="#999" stroke-width="0.95" fill="none"/>
<path d="M103.3,164.8V192.4" stroke="#999" stroke-width="0.95" fill="none"/>
<path d="M108.3,164.8V192.4" stroke="#999" stroke-width="0.95" fill="none"/>
<path d="M113.1,159.1V186.8" stroke="#999" stroke-width="0.95" fill="none"/>
<path d="M117.6,184.3V212.0" stroke="#999" stroke-width="0.95" fill="none"/>
<path d="M121.6,192.5V220.2" stroke="#999" stroke-width="0.95" fill="none"/>
<path d="M125.7,196.2V223.8" stroke="#999" stroke-width="0.95" fill="none"/>
<path d="M129.7,175.8V203.5" stroke="#999" stroke-width="0.95" fill="none"/>
<path d="M133.2,158.6V186.2" stroke="#999" stroke-width="0.95" fill="none"/>
<path d="M137.0,175.2V202.8" stroke="#999" stroke-width="0.95" fill="none"/>
<path d="M140.1,161.2V188.9" stroke="#999" stroke-width="0.95" fill="none"/>
<path d="M143.4,168.6V196.2" stroke="#999" stroke-width="0.95" fill="none"/>
<path d="M146.6,164.8V192.5" stroke="#999" stroke-width="0.95" fill="none"/>
<path d="M149.6,168.5V196.2" stroke="#999" stroke-width="0.95" fill="none"/>
<path d="M152.5,176.3V204.0" stroke="#999" stroke-width="0.95" fill="none"/>
<path d="M155.5,164.0V191.7" stroke="#999" stroke-width="0.95" fill="none"/>
<path d="M158.2,164.8V192.5" stroke="#999" stroke-width="0.95" fill="none"/>
<path d="M160.8,187.8V215.4" stroke="#999" stroke-width="0.95" fill="none"/>
<path d="M163.3,184.2V211.9" stroke="#999" stroke-width="0.95" fill="none"/>
<path d="M165.9,199.8V227.5" stroke="#999" stroke-width="0.95" fill="none"/>
<path d="M168.5,182.1V209.8" stroke="#999" stroke-width="0.95" fill="none"/>
<path d="M170.9,192.5V220.2" stroke="#999" stroke-width="0.95" fill="none"/>
<path d="M173.1,188.1V215.8" stroke="#999" stroke-width="0.95" fill="none"/>
<path d="M175.3,185.8V213.4" stroke="#999" stroke-width="0.95" fill="none"/>
<path d="M177.5,168.6V196.2" stroke="#999" stroke-width="0.95" fill="none"/>
<path d="M179.6,182.5V210.2" stroke="#999" stroke-width="0.95" fill="none"/>
<path d="M181.7,178.6V206.2" stroke="#999" stroke-width="0.95" fill="none"/>
<path d="M183.7,191.1V218.8" stroke="#999" stroke-width="0.95" fill="none"/>
<path d="M185.8,187.5V215.2" stroke="#999" stroke-width="0.95" fill="none"/>
<path d="M187.8,168.8V196.4" stroke="#999" stroke-width="0.95" fill="none"/>
<path d="M189.7,164.2V191.9" stroke="#999" stroke-width="0.95" fill="none"/>
<path d="M191.5,180.5V208.2" stroke="#999" stroke-width="0.95" fill="none"/>
<path d="M193.4,159.2V186.9" stroke="#999" stroke-width="0.95" fill="none"/>
<path d="M195.3,175.2V202.8" stroke="#999" stroke-width="0.95" fill="none"/>
<path d="M196.7,169.5V197.2" stroke="#999" stroke-width="0.95" fill="none"/>
<path d="M198.6,166.8V194.4" stroke="#999" stroke-width="0.95" fill="none"/>
<path d="M200.3,160.2V187.9" stroke="#999" stroke-width="0.95" fill="none"/>
<path d="M201.9,158.8V186.4" stroke="#999" stroke-width="0.95" fill="none"/>
<path d="M203.6,152.8V180.4" stroke="#999" stroke-width="0.95" fill="none"/>
<path d="M205.9,165.8V193.5" stroke="#999" stroke-width="0.95" fill="none"/>
<path d="M209.0,183.8V211.5" stroke="#999" stroke-width="0.95" fill="none"/>
<path d="M212.0,179.0V206.7" stroke="#999" stroke-width="0.95" fill="none"/>
<path d="M214.9,175.7V203.3" stroke="#999" stroke-width="0.95" fill="none"/>
<path d="M217.6,170.6V198.2" stroke="#999" stroke-width="0.95" fill="none"/>
<path d="M218.8,209.7V237.3" stroke="#999" stroke-width="0.95" fill="none"/>
<path d="M220.3,162.2V189.9" stroke="#999" stroke-width="0.95" fill="none"/>
<path d="M223.2,174.6V202.2" stroke="#999" stroke-width="0.95" fill="none"/>
<path d="M225.6,175.2V202.9" stroke="#999" stroke-width="0.95" fill="none"/>
<path d="M225.0,202.8V230.5" stroke="#999" stroke-width="0.95" fill="none"/>
<path d="M228.0,169.3V197.0" stroke="#999" stroke-width="0.95" fill="none"/>
<path d="M230.4,161.5V189.2" stroke="#999" stroke-width="0.95" fill="none"/>
<path d="M230.4,185.8V213.4" stroke="#999" stroke-width="0.95" fill="none"/>
<path d="M232.7,191.2V218.9" stroke="#999" stroke-width="0.95" fill="none"/>
<path d="M235.0,180.2V207.8" stroke="#999" stroke-width="0.95" fill="none"/>
<path d="M236.0,167.2V194.9" stroke="#999" stroke-width="0.95" fill="none"/>
<path d="M237.2,181.2V208.8" stroke="#999" stroke-width="0.95" fill="none"/>
<path d="M239.3,187.5V215.2" stroke="#999" stroke-width="0.95" fill="none"/>
<path d="M241.3,170.1V197.8" stroke="#999" stroke-width="0.95" fill="none"/>
<path d="M245.8,171.2V198.9" stroke="#999" stroke-width="0.95" fill="none"/>
<path d="M250.2,196.8V224.4" stroke="#999" stroke-width="0.95" fill="none"/>
<path d="M254.1,162.6V190.2" stroke="#999" stroke-width="0.95" fill="none"/>
<path d="M257.5,164.0V191.7" stroke="#999" stroke-width="0.95" fill="none"/>
<path d="M261.2,175.7V203.3" stroke="#999" stroke-width="0.95" fill="none"/>
<path d="M264.6,157.0V184.7" stroke="#999" stroke-width="0.95" fill="none"/>
<path d="M268.1,155.2V182.8" stroke="#999" stroke-width="0.95" fill="none"/>
<path d="M271.4,183.8V211.5" stroke="#999" stroke-width="0.95" fill="none"/>
<path d="M274.4,137.3V165.0" stroke="#999" stroke-width="0.95" fill="none"/>
<path d="M277.4,141.5V169.2" stroke="#999" stroke-width="0.95" fill="none"/>
<path d="M280.6,166.1V193.8" stroke="#999" stroke-width="0.95" fill="none"/>
<path d="M283.5,158.2V185.8" stroke="#999" stroke-width="0.95" fill="none"/>
<path d="M286.3,151.8V179.5" stroke="#999" stroke-width="0.95" fill="none"/>
<path d="M289.2,156.2V183.9" stroke="#999" stroke-width="0.95" fill="none"/>
<path d="M293.3,180.5V208.2" stroke="#999" stroke-width="0.95" fill="none"/>
<path d="M298.1,156.0V183.7" stroke="#999" stroke-width="0.95" fill="none"/>
<path d="M303.1,191.8V219.5" stroke="#999" stroke-width="0.95" fill="none"/>
<path d="M307.8,172.8V200.5" stroke="#999" stroke-width="0.95" fill="none"/>
<path d="M312.1,161.8V189.4" stroke="#999" stroke-width="0.95" fill="none"/>
<path d="M316.3,170.6V198.2" stroke="#999" stroke-width="0.95" fill="none"/>
<path d="M320.4,150.2V177.8" stroke="#999" stroke-width="0.95" fill="none"/>
<path d="M324.3,185.8V213.4" stroke="#999" stroke-width="0.95" fill="none"/>
<path d="M327.9,168.8V196.5" stroke="#999" stroke-width="0.95" fill="none"/>
<path d="M331.7,194.8V222.5" stroke="#999" stroke-width="0.95" fill="none"/>
<path d="M335.2,175.5V203.2" stroke="#999" stroke-width="0.95" fill="none"/>
<path d="M338.5,188.2V215.8" stroke="#999" stroke-width="0.95" fill="none"/>
<path d="M341.8,153.3V181.0" stroke="#999" stroke-width="0.95" fill="none"/>
<path d="M345.0,138.0V165.7" stroke="#999" stroke-width="0.95" fill="none"/>
<path d="M348.0,164.8V192.5" stroke="#999" stroke-width="0.95" fill="none"/>
<path d="M350.9,167.8V195.5" stroke="#999" stroke-width="0.95" fill="none"/>
<path d="M355.0,173.5V201.2" stroke="#999" stroke-width="0.95" fill="none"/>
<path d="M360.3,188.2V215.8" stroke="#999" stroke-width="0.95" fill="none"/>
<path d="M364.8,150.8V178.4" stroke="#999" stroke-width="0.95" fill="none"/>
<path d="M369.8,188.2V215.8" stroke="#999" stroke-width="0.95" fill="none"/>
<path d="M374.3,176.8V204.4" stroke="#999" stroke-width="0.95" fill="none"/>
<path d="M378.5,167.1V194.8" stroke="#999" stroke-width="0.95" fill="none"/>
<path d="M382.6,182.8V210.4" stroke="#999" stroke-width="0.95" fill="none"/>
<path d="M47.9,188.9H387.3" stroke="#f5a259" stroke-width="1.55" fill="none"/>
<circle cx="48.0" cy="164.8" r="2.15" fill="#000"/>
<circle cx="57.1" cy="190.7" r="2.15" fill="#000"/>
<circle cx="65.9" cy="201.7" r="2.15" fill="#000"/>
<circle cx="73.4" cy="199.4" r="2.15" fill="#000"/>
<circle cx="80.4" cy="205.8" r="2.15" fill="#000"/>
<circle cx="86.7" cy="199.9" r="2.15" fill="#000"/>
<circle cx="92.7" cy="179.4" r="2.15" fill="#000"/>
<circle cx="98.3" cy="176.1" r="2.15" fill="#000"/>
<circle cx="103.3" cy="178.6" r="2.15" fill="#000"/>
<circle cx="108.3" cy="178.6" r="2.15" fill="#000"/>
<circle cx="113.1" cy="172.9" r="2.15" fill="#000"/>
<circle cx="117.6" cy="198.2" r="2.15" fill="#000"/>
<circle cx="121.6" cy="206.3" r="2.15" fill="#000"/>
<circle cx="125.7" cy="210.0" r="2.15" fill="#000"/>
<circle cx="129.7" cy="189.7" r="2.15" fill="#000"/>
<circle cx="133.2" cy="172.4" r="2.15" fill="#000"/>
<circle cx="137.0" cy="189.0" r="2.15" fill="#000"/>
<circle cx="140.1" cy="175.1" r="2.15" fill="#000"/>
<circle cx="143.4" cy="182.4" r="2.15" fill="#000"/>
<circle cx="146.6" cy="178.7" r="2.15" fill="#000"/>
<circle cx="149.6" cy="182.3" r="2.15" fill="#000"/>
<circle cx="152.5" cy="190.2" r="2.15" fill="#000"/>
<circle cx="155.5" cy="177.8" r="2.15" fill="#000"/>
<circle cx="158.2" cy="178.7" r="2.15" fill="#000"/>
<circle cx="160.8" cy="201.6" r="2.15" fill="#000"/>
<circle cx="163.3" cy="198.1" r="2.15" fill="#000"/>
<circle cx="165.9" cy="213.7" r="2.15" fill="#000"/>
<circle cx="168.5" cy="195.9" r="2.15" fill="#000"/>
<circle cx="170.9" cy="206.3" r="2.15" fill="#000"/>
<circle cx="173.1" cy="201.9" r="2.15" fill="#000"/>
<circle cx="175.3" cy="199.6" r="2.15" fill="#000"/>
<circle cx="177.5" cy="182.4" r="2.15" fill="#000"/>
<circle cx="179.6" cy="196.3" r="2.15" fill="#000"/>
<circle cx="181.7" cy="192.4" r="2.15" fill="#000"/>
<circle cx="183.7" cy="204.9" r="2.15" fill="#000"/>
<circle cx="185.8" cy="201.3" r="2.15" fill="#000"/>
<circle cx="187.8" cy="182.6" r="2.15" fill="#000"/>
<circle cx="189.7" cy="178.1" r="2.15" fill="#000"/>
<circle cx="191.5" cy="194.3" r="2.15" fill="#000"/>
<circle cx="193.4" cy="173.1" r="2.15" fill="#000"/>
<circle cx="195.3" cy="189.0" r="2.15" fill="#000"/>
<circle cx="196.7" cy="183.3" r="2.15" fill="#000"/>
<circle cx="198.6" cy="180.6" r="2.15" fill="#000"/>
<circle cx="200.3" cy="174.1" r="2.15" fill="#000"/>
<circle cx="201.9" cy="172.6" r="2.15" fill="#000"/>
<circle cx="203.6" cy="166.6" r="2.15" fill="#000"/>
<circle cx="205.9" cy="179.7" r="2.15" fill="#000"/>
<circle cx="209.0" cy="197.7" r="2.15" fill="#000"/>
<circle cx="212.0" cy="192.8" r="2.15" fill="#000"/>
<circle cx="214.9" cy="189.5" r="2.15" fill="#000"/>
<circle cx="217.6" cy="184.4" r="2.15" fill="#000"/>
<circle cx="218.8" cy="223.5" r="2.15" fill="#000"/>
<circle cx="220.3" cy="176.1" r="2.15" fill="#000"/>
<circle cx="223.2" cy="188.4" r="2.15" fill="#000"/>
<circle cx="225.6" cy="189.1" r="2.15" fill="#000"/>
<circle cx="225.0" cy="216.7" r="2.15" fill="#000"/>
<circle cx="228.0" cy="183.2" r="2.15" fill="#000"/>
<circle cx="230.4" cy="175.3" r="2.15" fill="#000"/>
<circle cx="230.4" cy="199.6" r="2.15" fill="#000"/>
<circle cx="232.7" cy="205.1" r="2.15" fill="#000"/>
<circle cx="235.0" cy="194.0" r="2.15" fill="#000"/>
<circle cx="236.0" cy="181.1" r="2.15" fill="#000"/>
<circle cx="237.2" cy="195.0" r="2.15" fill="#000"/>
<circle cx="239.3" cy="201.3" r="2.15" fill="#000"/>
<circle cx="241.3" cy="183.9" r="2.15" fill="#000"/>
<circle cx="245.8" cy="185.1" r="2.15" fill="#000"/>
<circle cx="250.2" cy="210.6" r="2.15" fill="#000"/>
<circle cx="254.1" cy="176.4" r="2.15" fill="#000"/>
<circle cx="257.5" cy="177.8" r="2.15" fill="#000"/>
<circle cx="261.2" cy="189.5" r="2.15" fill="#000"/>
<circle cx="264.6" cy="170.8" r="2.15" fill="#000"/>
<circle cx="268.1" cy="169.0" r="2.15" fill="#000"/>
<circle cx="271.4" cy="197.7" r="2.15" fill="#000"/>
<circle cx="274.4" cy="151.2" r="2.15" fill="#000"/>
<circle cx="277.4" cy="155.3" r="2.15" fill="#000"/>
<circle cx="280.6" cy="179.9" r="2.15" fill="#000"/>
<circle cx="283.5" cy="172.0" r="2.15" fill="#000"/>
<circle cx="286.3" cy="165.7" r="2.15" fill="#000"/>
<circle cx="289.2" cy="170.1" r="2.15" fill="#000"/>
<circle cx="293.3" cy="194.3" r="2.15" fill="#000"/>
<circle cx="298.1" cy="169.8" r="2.15" fill="#000"/>
<circle cx="303.1" cy="205.7" r="2.15" fill="#000"/>
<circle cx="307.8" cy="186.7" r="2.15" fill="#000"/>
<circle cx="312.1" cy="175.6" r="2.15" fill="#000"/>
<circle cx="316.3" cy="184.4" r="2.15" fill="#000"/>
<circle cx="320.4" cy="164.0" r="2.15" fill="#000"/>
<circle cx="324.3" cy="199.6" r="2.15" fill="#000"/>
<circle cx="327.9" cy="182.7" r="2.15" fill="#000"/>
<circle cx="331.7" cy="208.7" r="2.15" fill="#000"/>
<circle cx="335.2" cy="189.3" r="2.15" fill="#000"/>
<circle cx="338.5" cy="202.0" r="2.15" fill="#000"/>
<circle cx="341.8" cy="167.2" r="2.15" fill="#000"/>
<circle cx="345.0" cy="151.8" r="2.15" fill="#000"/>
<circle cx="348.0" cy="178.7" r="2.15" fill="#000"/>
<circle cx="350.9" cy="181.7" r="2.15" fill="#000"/>
<circle cx="355.0" cy="187.3" r="2.15" fill="#000"/>
<circle cx="360.3" cy="202.0" r="2.15" fill="#000"/>
<circle cx="364.8" cy="164.6" r="2.15" fill="#000"/>
<circle cx="369.8" cy="202.0" r="2.15" fill="#000"/>
<circle cx="374.3" cy="190.6" r="2.15" fill="#000"/>
<circle cx="378.5" cy="180.9" r="2.15" fill="#000"/>
<circle cx="382.6" cy="196.6" r="2.15" fill="#000"/>
</g>
<g stroke="#000" stroke-width="1.2" fill="none">
<rect x="47.9" y="7.5" width="339.40000000000003" height="142.3"/>
<rect x="47.9" y="149.8" width="339.40000000000003" height="77.5"/>
<path d="M58.9,7.5v1.2 M58.9,149.8v-1.2 M58.9,149.8v0.7 M58.9,227.3v-0.8"/>
<path d="M77.7,7.5v1.2 M77.7,149.8v-1.2 M77.7,149.8v0.7 M77.7,227.3v-0.8"/>
<path d="M93.0,7.5v1.2 M93.0,149.8v-1.2 M93.0,149.8v0.7 M93.0,227.3v-0.8"/>
<path d="M105.9,7.5v1.2 M105.9,149.8v-1.2 M105.9,149.8v0.7 M105.9,227.3v-0.8"/>
<path d="M117.1,7.5v1.2 M117.1,149.8v-1.2 M117.1,149.8v0.7 M117.1,227.3v-0.8"/>
<path d="M127.0,7.5v1.2 M127.0,149.8v-1.2 M127.0,149.8v0.7 M127.0,227.3v-0.8"/>
<path d="M135.9,7.5v2.6 M135.9,149.8v-2.6 M135.9,149.8v1.6 M135.9,227.3v-1.8"/>
<path d="M194.1,7.5v1.2 M194.1,149.8v-1.2 M194.1,149.8v0.7 M194.1,227.3v-0.8"/>
<path d="M228.2,7.5v1.2 M228.2,149.8v-1.2 M228.2,149.8v0.7 M228.2,227.3v-0.8"/>
<path d="M252.4,7.5v1.2 M252.4,149.8v-1.2 M252.4,149.8v0.7 M252.4,227.3v-0.8"/>
<path d="M271.2,7.5v1.2 M271.2,149.8v-1.2 M271.2,149.8v0.7 M271.2,227.3v-0.8"/>
<path d="M286.5,7.5v1.2 M286.5,149.8v-1.2 M286.5,149.8v0.7 M286.5,227.3v-0.8"/>
<path d="M299.4,7.5v1.2 M299.4,149.8v-1.2 M299.4,149.8v0.7 M299.4,227.3v-0.8"/>
<path d="M310.6,7.5v1.2 M310.6,149.8v-1.2 M310.6,149.8v0.7 M310.6,227.3v-0.8"/>
<path d="M320.5,7.5v1.2 M320.5,149.8v-1.2 M320.5,149.8v0.7 M320.5,227.3v-0.8"/>
<path d="M329.4,7.5v2.6 M329.4,149.8v-2.6 M329.4,149.8v1.6 M329.4,227.3v-1.8"/>
<path d="M47.9,146.6h3.2 M387.3,146.6h-3.2"/>
<path d="M47.9,143.7h3.2 M387.3,143.7h-3.2"/>
<path d="M47.9,141.1h3.2 M387.3,141.1h-3.2"/>
<path d="M47.9,138.9h3.2 M387.3,138.9h-3.2"/>
<path d="M47.9,136.9h6.5 M387.3,136.9h-6.5"/>
<path d="M47.9,123.7h3.2 M387.3,123.7h-3.2"/>
<path d="M47.9,116.0h3.2 M387.3,116.0h-3.2"/>
<path d="M47.9,110.5h3.2 M387.3,110.5h-3.2"/>
<path d="M47.9,106.3h3.2 M387.3,106.3h-3.2"/>
<path d="M47.9,102.8h3.2 M387.3,102.8h-3.2"/>
<path d="M47.9,99.9h3.2 M387.3,99.9h-3.2"/>
<path d="M47.9,97.3h3.2 M387.3,97.3h-3.2"/>
<path d="M47.9,95.1h3.2 M387.3,95.1h-3.2"/>
<path d="M47.9,93.1h6.5 M387.3,93.1h-6.5"/>
<path d="M47.9,79.9h3.2 M387.3,79.9h-3.2"/>
<path d="M47.9,72.2h3.2 M387.3,72.2h-3.2"/>
<path d="M47.9,66.7h3.2 M387.3,66.7h-3.2"/>
<path d="M47.9,62.5h3.2 M387.3,62.5h-3.2"/>
<path d="M47.9,59.0h3.2 M387.3,59.0h-3.2"/>
<path d="M47.9,56.1h3.2 M387.3,56.1h-3.2"/>
<path d="M47.9,53.5h3.2 M387.3,53.5h-3.2"/>
<path d="M47.9,51.3h3.2 M387.3,51.3h-3.2"/>
<path d="M47.9,49.3h6.5 M387.3,49.3h-6.5"/>
<path d="M47.9,36.1h3.2 M387.3,36.1h-3.2"/>
<path d="M47.9,28.4h3.2 M387.3,28.4h-3.2"/>
<path d="M47.9,22.9h3.2 M387.3,22.9h-3.2"/>
<path d="M47.9,18.7h3.2 M387.3,18.7h-3.2"/>
<path d="M47.9,15.2h3.2 M387.3,15.2h-3.2"/>
<path d="M47.9,12.3h3.2 M387.3,12.3h-3.2"/>
<path d="M47.9,9.7h3.2 M387.3,9.7h-3.2"/>
<path d="M47.9,216.6h6.8 M387.3,216.6h-6.8"/>
<path d="M47.9,202.8h6.8 M387.3,202.8h-6.8"/>
<path d="M47.9,175.1h6.8 M387.3,175.1h-6.8"/>
<path d="M47.9,161.2h6.8 M387.3,161.2h-6.8"/>
</g>
<g font-family="Liberation Sans, sans-serif" fill="#111" stroke="#111" stroke-width="0.25">
<text x="44.9" y="53.4" font-size="10.5" text-anchor="end" letter-spacing="0.2" stroke-width="0.08">1.00</text>
<text x="44.9" y="97.2" font-size="10.5" text-anchor="end" letter-spacing="0.2" stroke-width="0.08">0.10</text>
<text x="44.9" y="141.0" font-size="10.5" text-anchor="end" letter-spacing="0.2" stroke-width="0.08">0.01</text>
<text x="44.9" y="165.4" font-size="10.5" text-anchor="end" letter-spacing="0.2" stroke-width="0.08">2</text>
<text x="44.9" y="179.2" font-size="10.5" text-anchor="end" letter-spacing="0.2" stroke-width="0.08">1</text>
<text x="44.9" y="193.1" font-size="10.5" text-anchor="end" letter-spacing="0.2" stroke-width="0.08">0</text>
<text x="44.9" y="206.9" font-size="10.5" text-anchor="end" letter-spacing="0.2" stroke-width="0.08">−1</text>
<text x="44.9" y="220.8" font-size="10.5" text-anchor="end" letter-spacing="0.2" stroke-width="0.08">−2</text>
<text x="135.9" y="242.3" font-size="10.5" text-anchor="middle" letter-spacing="0.2" stroke-width="0.08">10</text>
<text x="329.4" y="242.3" font-size="10.5" text-anchor="middle" letter-spacing="0.2" stroke-width="0.08">100</text>
<text x="186.3" y="254.1" font-size="10">Energy</text>
<text x="223.5" y="254.1" font-size="10" letter-spacing="0.25">(keV)</text>
<text x="194.0" y="28.8" font-size="16.7" textLength="37.2" lengthAdjust="spacingAndGlyphs" fill="#222" stroke="none">SIMS</text>
<text x="230.9" y="28.8" font-size="16.7" letter-spacing="0.45" fill="#222" stroke="none">(Rise)</text>
<text transform="translate(22.2,196.9) rotate(-90)" font-size="9.8">Chi</text>
<text transform="translate(15.4,154.5) rotate(-90)" font-size="10" textLength="15.8" lengthAdjust="spacingAndGlyphs">keV</text>
<text transform="translate(10.2,138.6) rotate(-90)" font-size="6.4">2</text>
<text transform="translate(14.8,128.9) rotate(-90)" font-size="12">(</text>
<text transform="translate(15.4,124.9) rotate(-90)" font-size="10" textLength="38.8" lengthAdjust="spacingAndGlyphs">Photons</text>
<text transform="translate(15.4,80.9) rotate(-90)" font-size="10" textLength="14.7" lengthAdjust="spacingAndGlyphs">cm</text>
<text transform="translate(10.2,65.1) rotate(-90)" font-size="6.4">−2</text>
<text transform="translate(15.4,52.3) rotate(-90)" font-size="10">s</text>
<text transform="translate(10.2,46.5) rotate(-90)" font-size="6.4">−1</text>
<text transform="translate(15.4,33.3) rotate(-90)" font-size="10" textLength="15.8" lengthAdjust="spacingAndGlyphs">keV</text>
<text transform="translate(10.2,16.2) rotate(-90)" font-size="6.4">−1</text>
<text transform="translate(14.8,8.7) rotate(-90)" font-size="12">)</text>
</g>
</svg>
</body></html>
